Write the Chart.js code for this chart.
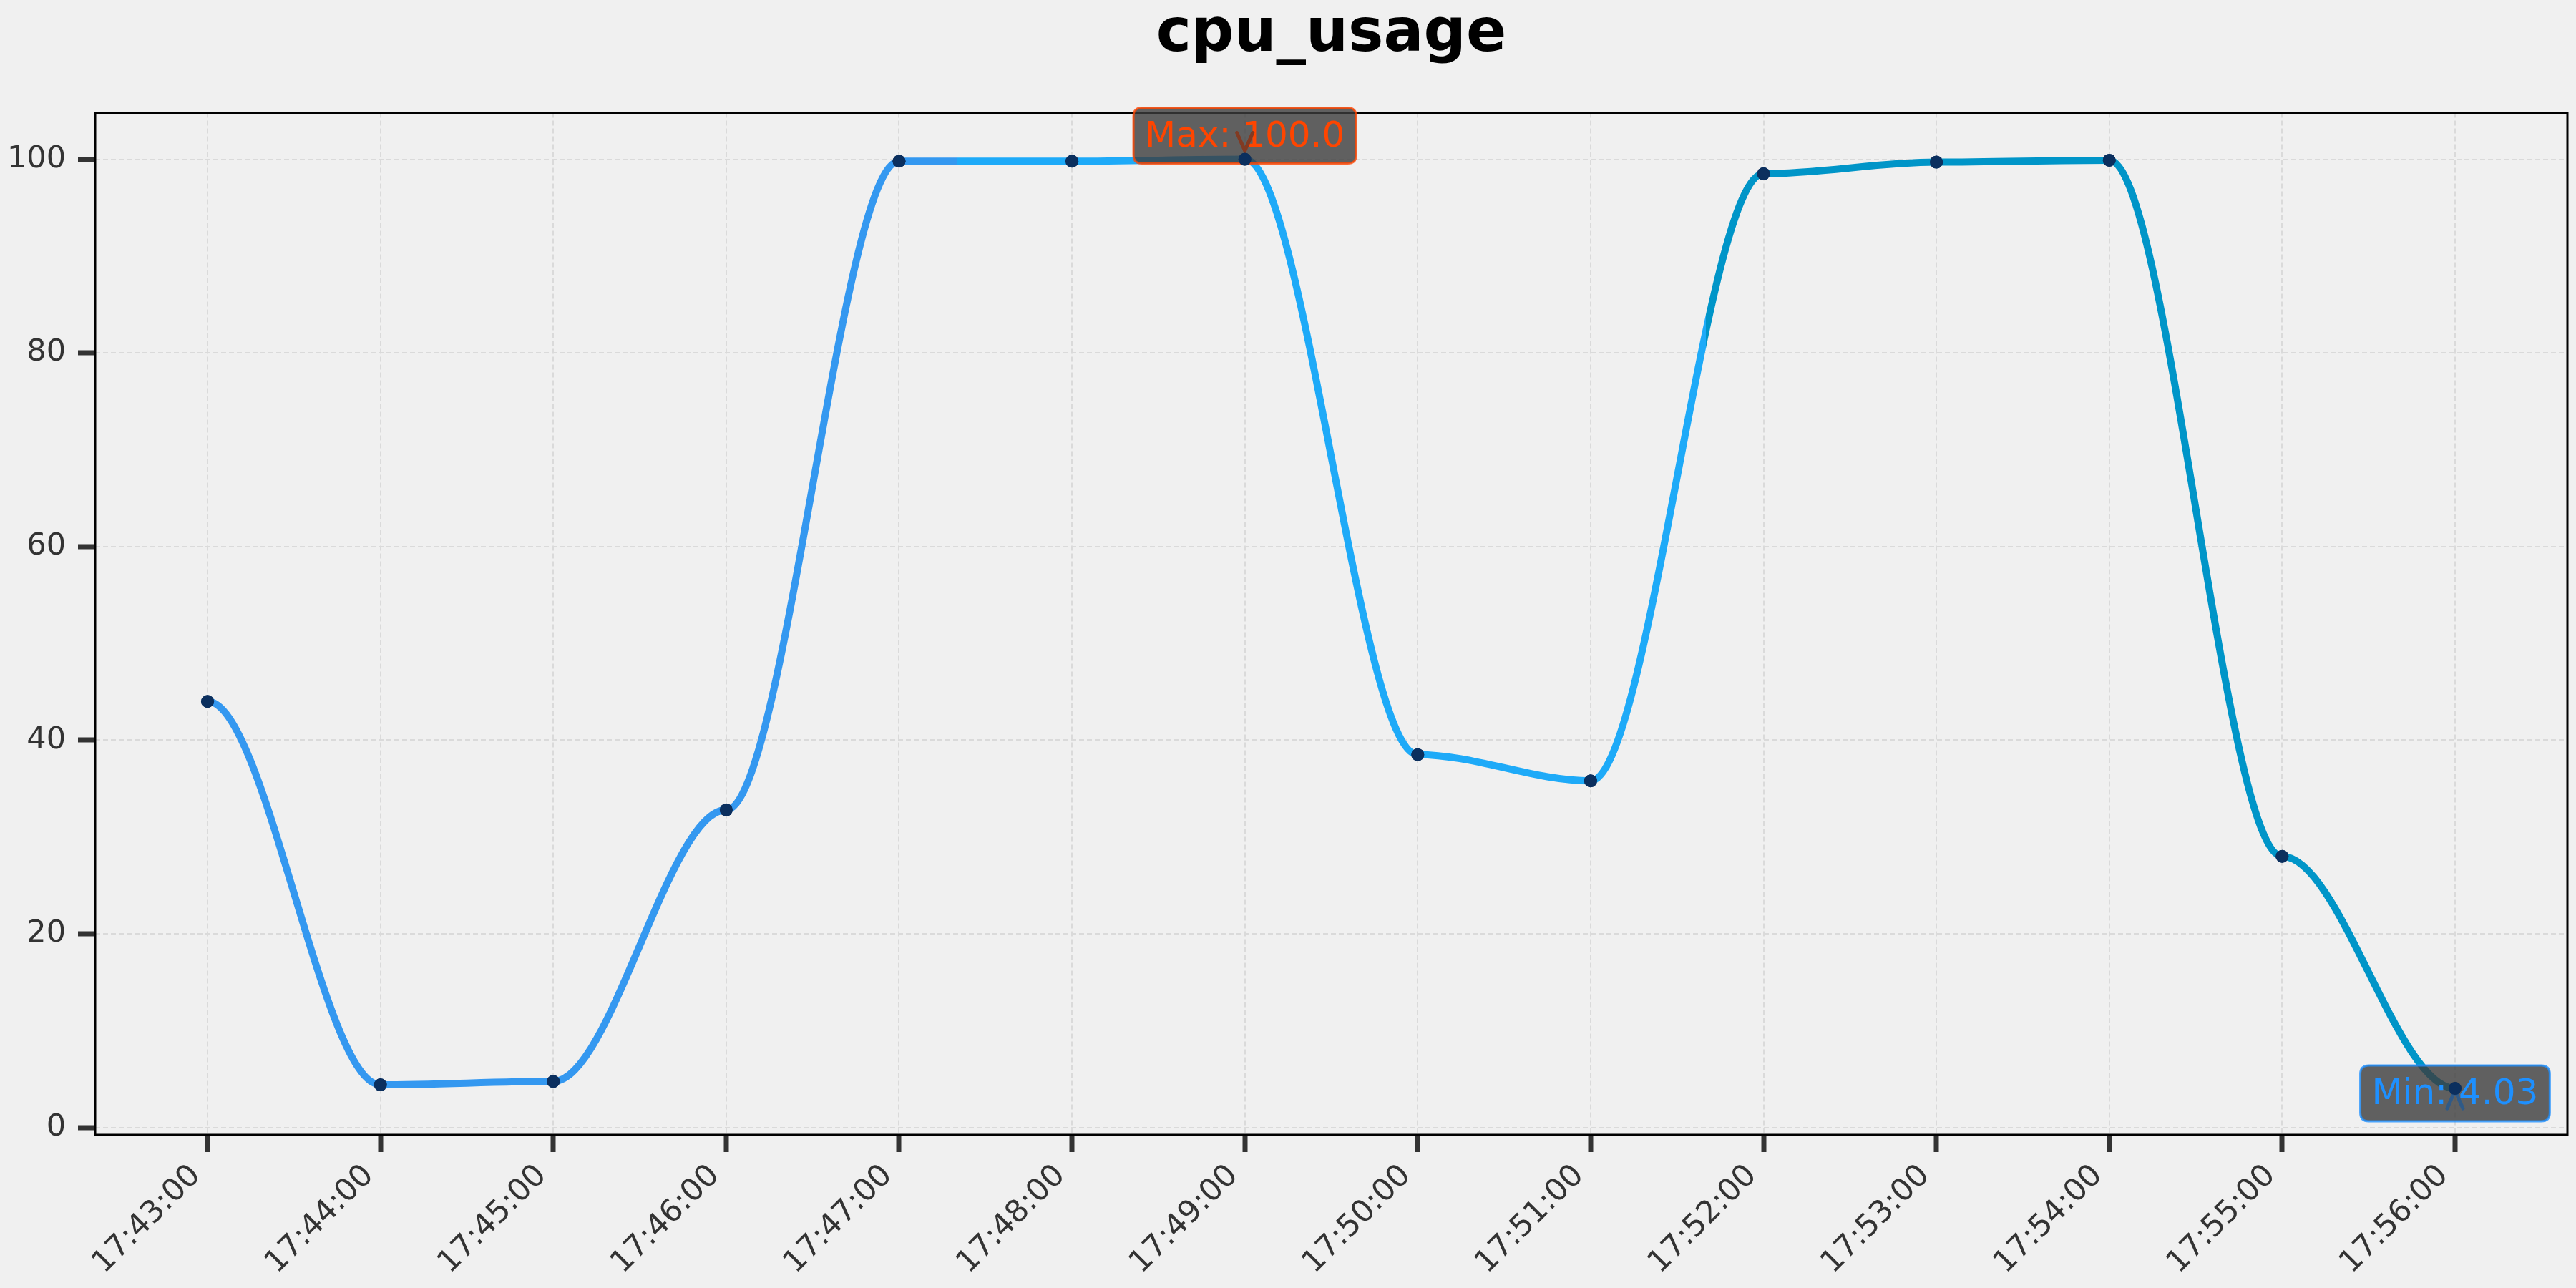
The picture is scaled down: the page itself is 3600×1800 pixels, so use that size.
<!DOCTYPE html>
<html>
<head>
<meta charset="utf-8">
<title>cpu_usage</title>
<script src="https://cdn.jsdelivr.net/npm/chart.js@4.4.1/dist/chart.umd.min.js"></script>
<style>
    html, body { margin: 0; padding: 0; background: #f0f0f0; }
    #wrap { width: 3600px; height: 1800px; }
</style>
</head>
<body>
<div id="wrap"><canvas id="cpuChart"></canvas></div>
<script>
const timeLabels = [
    '17:43:00', '17:44:00', '17:45:00', '17:46:00', '17:47:00', '17:48:00', '17:49:00',
    '17:50:00', '17:51:00', '17:52:00', '17:53:00', '17:54:00', '17:55:00', '17:56:00'
];
const cpuUsage = [44.0, 4.4, 4.75, 32.8, 99.8, 99.8, 100.0, 38.5, 35.8, 98.5, 99.7, 99.9, 28.0, 4.03];
const yTicks = [0, 20, 40, 60, 80, 100];

// the line changes colour in three equal stretches along the time axis
const lineColors = ['#3498f0', '#1eaaf8', '#0095c8'];
const colorSplits = [1 / 3, 2 / 3];

const FONT = "'DejaVu Sans', sans-serif";

function fmtValue(v) {
    // python-style float repr: 100 -> "100.0", 4.03 -> "4.03"
    return Number.isInteger(v) ? v.toFixed(1) : String(v);
}

function lineGradient(ctx) {
    const chart = ctx.chart;
    const { chartArea, scales } = chart;
    if (!chartArea) return lineColors[0];
    const x0 = scales.x.getPixelForValue(0);
    const x1 = scales.x.getPixelForValue(timeLabels.length - 1);
    const g = chart.ctx.createLinearGradient(x0, 0, x1, 0);
    g.addColorStop(0, lineColors[0]);
    g.addColorStop(colorSplits[0], lineColors[0]);
    g.addColorStop(colorSplits[0], lineColors[1]);
    g.addColorStop(colorSplits[1], lineColors[1]);
    g.addColorStop(colorSplits[1], lineColors[2]);
    g.addColorStop(1, lineColors[2]);
    return g;
}

function roundRect(ctx, x, y, w, h, r) {
    ctx.beginPath();
    ctx.moveTo(x + r, y);
    ctx.lineTo(x + w - r, y);
    ctx.quadraticCurveTo(x + w, y, x + w, y + r);
    ctx.lineTo(x + w, y + h - r);
    ctx.quadraticCurveTo(x + w, y + h, x + w - r, y + h);
    ctx.lineTo(x + r, y + h);
    ctx.quadraticCurveTo(x, y + h, x, y + h - r);
    ctx.lineTo(x, y + r);
    ctx.quadraticCurveTo(x, y, x + r, y);
    ctx.closePath();
}

function drawNote(ctx, px, py, text, color, arrowColor, dy, pointsDown) {
    ctx.save();
    ctx.font = '50px ' + FONT;
    const tw = ctx.measureText(text).width;
    const w = tw + 32, h = 78;
    const cx = px, cy = py + dy;
    roundRect(ctx, cx - w / 2, cy - h / 2, w, h, 12);
    ctx.fillStyle = 'rgba(60, 60, 60, 0.8)';
    ctx.fill();
    ctx.lineWidth = 3;
    ctx.strokeStyle = color;
    ctx.globalAlpha = 0.8;
    ctx.stroke();
    ctx.globalAlpha = 1;

    ctx.fillStyle = color;
    ctx.textAlign = 'center';
    ctx.textBaseline = 'middle';
    ctx.fillText(text, cx, cy + 2);

    // small arrow head pointing at the data point
    ctx.strokeStyle = arrowColor;
    ctx.lineWidth = 5;
    ctx.lineCap = 'round';
    ctx.beginPath();
    if (pointsDown) {
        ctx.moveTo(px - 11, py - 37);
        ctx.lineTo(px, py - 12);
        ctx.lineTo(px + 11, py - 37);
    } else {
        ctx.moveTo(px - 11, py + 28);
        ctx.lineTo(px, py + 3);
        ctx.lineTo(px + 11, py + 28);
    }
    ctx.stroke();
    ctx.restore();
}

// each span between samples eases in and out: flat tangents at every sample
const flatTangentPlugin = {
    id: 'flatTangents',
    beforeDatasetsDraw(chart) {
        const meta = chart.getDatasetMeta(0);
        const pts = meta.data;
        pts.forEach((p, i) => {
            const prev = pts[i - 1], next = pts[i + 1];
            p.cp1x = prev ? p.x - (p.x - prev.x) / 3 : p.x;
            p.cp1y = p.y;
            p.cp2x = next ? p.x + (next.x - p.x) / 3 : p.x;
            p.cp2y = p.y;
        });
        meta.dataset._pointsUpdated = true;
        meta.dataset._path = undefined;
    }
};

const extremaPlugin = {
    id: 'extrema',
    afterDatasetsDraw(chart) {
        const { ctx, scales } = chart;
        const maxVal = Math.max(...cpuUsage);
        const minVal = Math.min(...cpuUsage);
        const maxIdx = cpuUsage.indexOf(maxVal);
        const minIdx = cpuUsage.indexOf(minVal);

        drawNote(ctx, scales.x.getPixelForValue(maxIdx), scales.y.getPixelForValue(maxVal),
            'Max: ' + fmtValue(maxVal), '#ff4500', '#823a22', -33, true);
        drawNote(ctx, scales.x.getPixelForValue(minIdx), scales.y.getPixelForValue(minVal),
            'Min: ' + fmtValue(minVal), '#1e90ff', '#2f5a88', 7, false);

        // markers sit above the boxes
        chart.getDatasetMeta(0).data.forEach(p => p.draw(ctx, chart.chartArea));
    }
};

const framePlugin = {
    id: 'frame',
    afterDatasetsDraw(chart) {
        const { ctx, chartArea } = chart;
        ctx.save();
        ctx.strokeStyle = '#000';
        ctx.lineWidth = 3;
        ctx.strokeRect(chartArea.left, chartArea.top, chartArea.right - chartArea.left, chartArea.bottom - chartArea.top);
        ctx.restore();
    }
};

const gridStyle = {
    color: '#dadada',
    lineWidth: 2,
    tickColor: '#333',
    tickWidth: 7,
    tickLength: 24,
    tickBorderDash: []
};

new Chart(document.getElementById('cpuChart'), {
    type: 'line',
    data: {
        datasets: [{
            label: 'cpu_usage',
            data: cpuUsage.map((v, i) => ({ x: i, y: v })),
            borderColor: lineGradient,
            borderWidth: 10,
            tension: 0.4,
            pointRadius: 9,
            pointHoverRadius: 9,
            pointBackgroundColor: '#0b2f5e',
            pointBorderWidth: 0,
            fill: false
        }]
    },
    options: {
        responsive: true,
        maintainAspectRatio: false,
        animation: false,
        devicePixelRatio: 1,
        layout: { padding: { left: 0, right: 12, top: 0, bottom: 0 } },
        plugins: {
            legend: { display: false },
            tooltip: { enabled: false },
            title: {
                display: true,
                text: 'cpu_usage',
                color: '#000',
                fullSize: false,
                font: { family: FONT, size: 83, weight: 'bold', lineHeight: 1.2 },
                padding: { top: 0, bottom: 58 }
            }
        },
        scales: {
            x: {
                type: 'linear',
                min: -0.65,
                max: timeLabels.length - 1 + 0.65,
                afterBuildTicks: axis => { axis.ticks = timeLabels.map((_, i) => ({ value: i })); },
                afterFit: scale => { scale.height = 214; },
                grid: gridStyle,
                border: { display: false, dash: [7, 4] },
                ticks: {
                    color: '#333',
                    font: { family: FONT, size: 43 },
                    minRotation: 45,
                    maxRotation: 45,
                    padding: 8,
                    labelOffset: -16,
                    autoSkip: false,
                    callback: value => timeLabels[value]
                }
            },
            y: {
                min: -0.77,
                max: 104.8,
                afterBuildTicks: axis => { axis.ticks = yTicks.map(v => ({ value: v })); },
                afterFit: scale => { scale.width = 133; },
                grid: gridStyle,
                border: { display: false, dash: [7, 4] },
                ticks: {
                    color: '#333',
                    font: { family: FONT, size: 43 },
                    padding: 17
                }
            }
        }
    },
    plugins: [flatTangentPlugin, framePlugin, extremaPlugin]
});
</script>
</body>
</html>
